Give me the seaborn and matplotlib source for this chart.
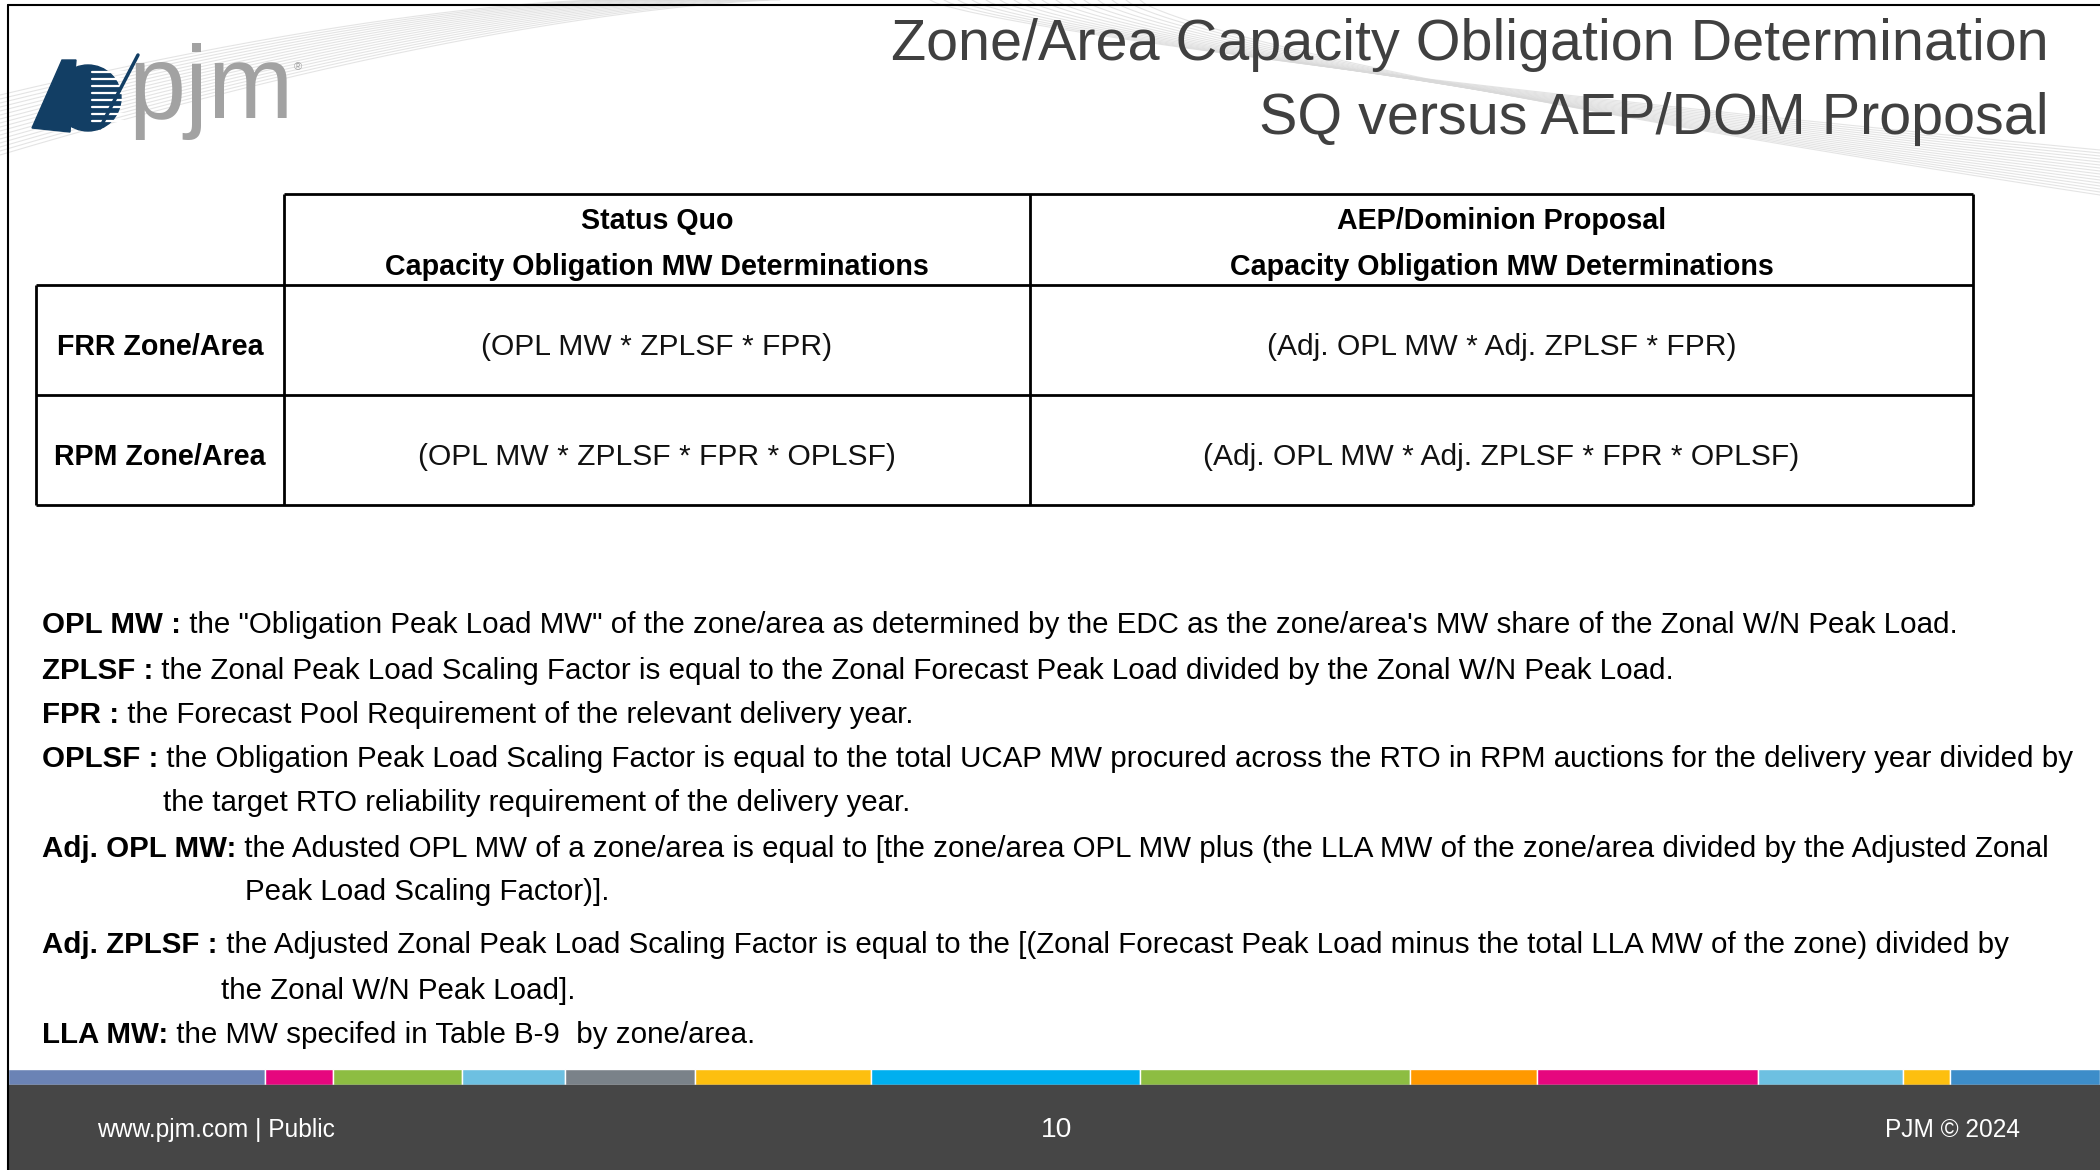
import numpy as np
import matplotlib.pyplot as plt
import seaborn as sns
from matplotlib import font_manager
from matplotlib.patches import Circle, Polygon

# ---- content ----
title_lines = ["Zone/Area Capacity Obligation Determination",
               "SQ versus AEP/DOM Proposal"]

col_titles = ["Status Quo", "AEP/Dominion Proposal"]
col_subtitle = "Capacity Obligation MW Determinations"
row_labels = ["FRR Zone/Area", "RPM Zone/Area"]
sq_formulas = ["(OPL MW * ZPLSF * FPR)", "(OPL MW * ZPLSF * FPR * OPLSF)"]
aep_formulas = ["(Adj. OPL MW * Adj. ZPLSF * FPR)",
                "(Adj. OPL MW * Adj. ZPLSF * FPR * OPLSF)"]

def_terms = ["OPL MW :", "ZPLSF :", "FPR :", "OPLSF :",
             "Adj. OPL MW:", "Adj. ZPLSF :", "LLA MW:"]
def_texts = [
    " the \"Obligation Peak Load MW\" of the zone/area as determined by the EDC as the zone/area's MW share of the Zonal W/N Peak Load.",
    " the Zonal Peak Load Scaling Factor is equal to the Zonal Forecast Peak Load divided by the Zonal W/N Peak Load.",
    " the Forecast Pool Requirement of the relevant delivery year.",
    " the Obligation Peak Load Scaling Factor is equal to the total UCAP MW procured across the RTO in RPM auctions for the delivery year divided by",
    " the Adusted OPL MW of a zone/area is equal to [the zone/area OPL MW plus (the LLA MW of the zone/area divided by the Adjusted Zonal",
    " the Adjusted Zonal Peak Load Scaling Factor is equal to the [(Zonal Forecast Peak Load minus the total LLA MW of the zone) divided by",
    " the MW specifed in Table B-9  by zone/area.",
]
def_wraps = ["", "", "",
             "the target RTO reliability requirement of the delivery year.",
             "Peak Load Scaling Factor)].",
             "the Zonal W/N Peak Load].",
             ""]

footer_left = "www.pjm.com | Public"
footer_page = "10"
footer_right = "PJM \u00a9 2024"
stripe_colors = ["#6B83B5", "#E6077E", "#8DBD42", "#6DC0E1", "#7A8289", "#FDBF0F",
                 "#00AFEF", "#8DBD42", "#FF9900", "#E6077E", "#6DC0E1", "#FDBF0F", "#3D8DC9"]
stripe_widths = [257, 68, 129, 103, 130, 176, 269, 270, 127, 221, 145, 47, 150]

# ---- setup ----
sns.set_theme(style="white")
installed = {f.name for f in font_manager.fontManager.ttflist}
NARROW = "Liberation Sans Narrow" if "Liberation Sans Narrow" in installed else "Liberation Sans"
plt.rcParams["font.family"] = ["Liberation Sans", "DejaVu Sans"]

W, H = 2100, 1170
fig = plt.figure(figsize=(21, 11.7), dpi=100)
ax = fig.add_axes([0, 0, 1, 1])
ax.set_xlim(0, W)
ax.set_ylim(H, 0)
ax.axis("off")
renderer = fig.canvas.get_renderer()


def width_of(text, size, weight="normal", family=NARROW):
    t = ax.text(0, 0, text, fontsize=size, fontweight=weight, family=family)
    w = t.get_window_extent(renderer).width
    t.remove()
    return w


def fit_size(text, target, weight="normal", family=NARROW, base=20):
    return base * target / width_of(text, base, weight, family)


# faint header waves
for k in range(16):
    x_end = 600 + 12 * k
    xa = np.linspace(0, x_end, 200)
    ya = (95 + 4 * k) * (1 - xa / x_end) ** 1.5
    ax.plot(xa, ya, color="#D9D9D9", lw=0.8, alpha=0.7, zorder=0)
    x0 = 930 + 14 * k
    xb = np.linspace(x0, W, 200)
    yb = (150 + 3 * k) * ((xb - x0) / (W - x0)) ** 0.75
    ax.plot(xb, yb, color="#D9D9D9", lw=0.8, alpha=0.7, zorder=0)

# logo
ax.add_patch(Circle((88, 98), 33, color="#123E64", zorder=2))
for yy in range(72, 128, 7):
    ax.plot([92, 124], [yy, yy], color="white", lw=1.6, zorder=3)
ax.add_patch(Polygon([[32, 128], [62, 60], [76, 60], [70, 132]], color="#123E64", zorder=3))
ax.plot([100, 138], [128, 55], color="#123E64", lw=2.5, zorder=3)
ax.text(128, 118, "pjm", fontsize=74, color="#A2A2A2", family="Liberation Sans",
        va="baseline", ha="left", zorder=3)
ax.text(294, 70, "\u00ae", fontsize=8, color="#A2A2A2", va="baseline")

# title
ts = fit_size(title_lines[0], 1154, family="Liberation Sans")
ax.text(2049, 60, title_lines[0], fontsize=ts, color="#404040", ha="right",
        va="baseline", family="Liberation Sans")
ax.text(2049, 134, title_lines[1], fontsize=ts, color="#404040", ha="right",
        va="baseline", family="Liberation Sans")

# table
col_edges = [36, 284, 1030, 1973]
row_edges = [194, 285, 395, 505]
lw = 2.0
ax.hlines(row_edges[0], col_edges[1], col_edges[3], color="black", lw=lw)
ax.hlines(row_edges[1:], col_edges[0], col_edges[3], color="black", lw=lw)
ax.vlines(col_edges[1:], row_edges[0], row_edges[3], color="black", lw=lw)
ax.vlines(col_edges[0], row_edges[1], row_edges[3], color="black", lw=lw)

hs = fit_size(col_subtitle, 543, weight="bold")
cs = fit_size(sq_formulas[0], 351)
for i, title in enumerate(col_titles):
    cx = (col_edges[i + 1] + col_edges[i + 2]) / 2
    ax.text(cx, 229, title, fontsize=hs, fontweight="bold", family=NARROW,
            ha="center", va="baseline", color="black")
    ax.text(cx, 275, col_subtitle, fontsize=hs, fontweight="bold", family=NARROW,
            ha="center", va="baseline", color="black")

row_base = [355, 465]
for j, lab in enumerate(row_labels):
    ax.text((col_edges[0] + col_edges[1]) / 2, row_base[j], lab, fontsize=hs,
            fontweight="bold", family=NARROW, ha="center", va="baseline", color="black")
    ax.text((col_edges[1] + col_edges[2]) / 2, row_base[j], sq_formulas[j], fontsize=cs,
            family=NARROW, ha="center", va="baseline", color="#111111")
    ax.text((col_edges[2] + col_edges[3]) / 2, row_base[j], aep_formulas[j], fontsize=cs,
            family=NARROW, ha="center", va="baseline", color="#111111")

# definitions
bs = 20 * 1907 / (width_of(def_terms[0], 20, "bold") + width_of(def_texts[0], 20))
main_base = [633, 679, 723, 767, 857, 953, 1043]
wrap_base = {3: (163, 811), 4: (245, 900), 5: (221, 999)}
for i, (term, body) in enumerate(zip(def_terms, def_texts)):
    t = ax.text(42, main_base[i], term, fontsize=bs, fontweight="bold", family=NARROW,
                va="baseline", ha="left", color="black")
    x2 = 42 + t.get_window_extent(renderer).width
    ax.text(x2, main_base[i], body, fontsize=bs, family=NARROW,
            va="baseline", ha="left", color="black")
    if def_wraps[i]:
        wx, wy = wrap_base[i]
        ax.text(wx, wy, def_wraps[i], fontsize=bs, family=NARROW,
                va="baseline", ha="left", color="black")

# footer
lefts = 8 + np.concatenate([[0], np.cumsum(stripe_widths)[:-1]])
ax.barh(1077, stripe_widths, left=lefts, height=16, color=stripe_colors, zorder=2)
ax.add_patch(plt.Rectangle((8, 1085), W - 8, H - 1085, color="#464646", zorder=2))
fs = fit_size(footer_left, 238, family="Liberation Sans")
ax.text(97, 1137, footer_left, fontsize=fs, color="white", va="baseline", ha="left", zorder=3)
ax.text(1057, 1137, footer_page, fontsize=fs * 1.15, color="white", va="baseline",
        ha="center", zorder=3)
ax.text(2020, 1137, footer_right, fontsize=fs, color="white", va="baseline",
        ha="right", zorder=3)

# slide frame
ax.plot([8, 8], [5, H], color="black", lw=1.5, zorder=4)
ax.plot([8, W], [5, 5], color="black", lw=1.5, zorder=4)

fig.savefig("out.png", dpi=100)
